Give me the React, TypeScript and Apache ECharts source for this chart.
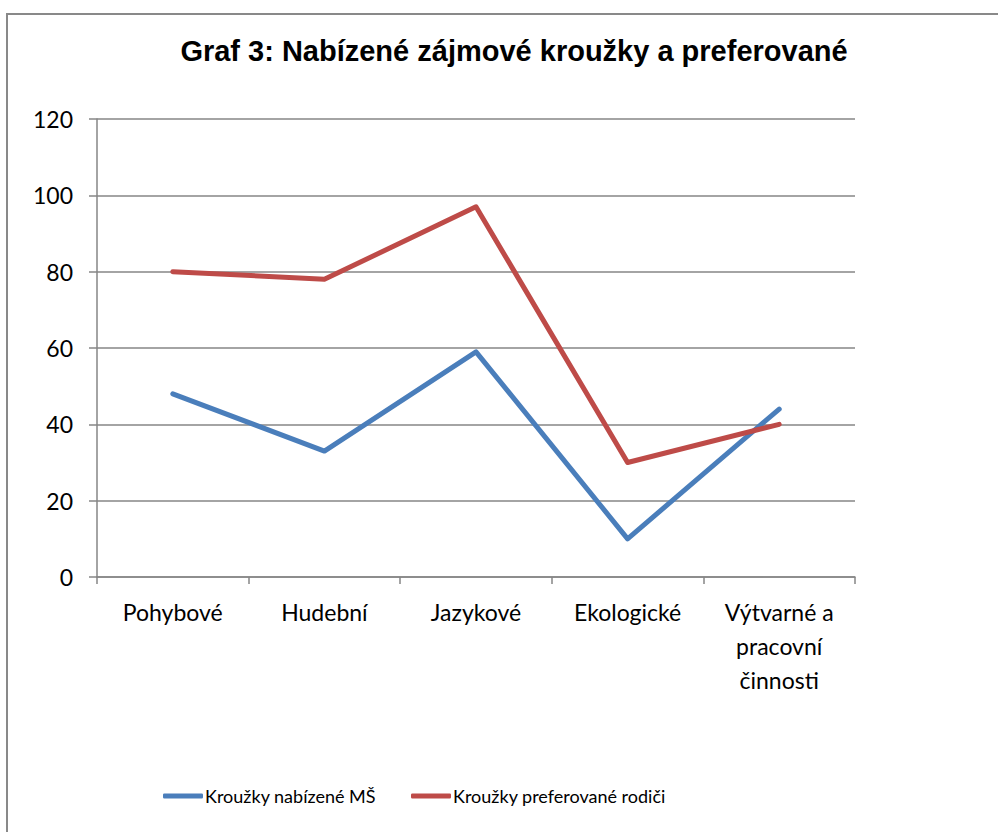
import React, { useEffect, useRef } from "react";
import * as echarts from "echarts";

const categories = ["Pohybové", "Hudební", "Jazykové", "Ekologické", "Výtvarné a\npracovní\nčinnosti"];
const offeredName = "Kroužky nabízené MŠ";
const preferredName = "Kroužky preferované rodiči";
const offered = [48, 33, 59, 10, 44];
const preferred = [80, 78, 97, 30, 40];
const titleText = "Graf 3: Nabízené zájmové kroužky a preferované";

export default function App() {
  const ref = useRef<HTMLDivElement>(null);
  useEffect(() => {
    const chart = echarts.init(ref.current!, undefined, { renderer: "svg" });
    const labelFont = { fontFamily: "Lato", fontSize: 23, color: "#000" };
    chart.setOption({
      animation: false,
      backgroundColor: "#fff",
      graphic: [
        {
          type: "rect",
          shape: { x: 7, y: 14, width: 1200, height: 1200 },
          style: { fill: "none", stroke: "#898989", lineWidth: 2 },
          silent: true,
        },
      ],
      title: {
        text: titleText,
        left: 509,
        textAlign: "center",
        top: 31,
        textStyle: { fontFamily: "Liberation Sans", fontWeight: "bold", fontSize: 29, color: "#000" },
      },
      legend: {
        left: 163,
        top: 787,
        padding: 0,
        itemWidth: 40,
        itemHeight: 5,
        itemGap: 35,
        icon: "roundRect",
        textStyle: { fontFamily: "Lato", fontSize: 18, color: "#000", padding: [0, 0, 0, -3] },
        data: [offeredName, preferredName],
      },
      grid: { left: 97, top: 119, right: 143, bottom: 255, containLabel: false },
      xAxis: {
        type: "category",
        data: categories,
        boundaryGap: true,
        axisLine: { lineStyle: { color: "#868686", width: 1.5 } },
        axisTick: { show: true, length: 7, inside: false, lineStyle: { color: "#868686", width: 1.5 } },
        axisLabel: { ...labelFont, margin: 18, lineHeight: 34, interval: 0 },
      },
      yAxis: {
        type: "value",
        min: 0,
        max: 120,
        interval: 20,
        axisLine: { show: true, lineStyle: { color: "#868686", width: 1.5 } },
        axisTick: { show: true, length: 8, lineStyle: { color: "#868686", width: 1.5 } },
        axisLabel: { ...labelFont, margin: 24 },
        splitLine: { show: true, lineStyle: { color: "#868686", width: 1.5 } },
      },
      series: [
        {
          name: offeredName,
          type: "line",
          data: offered,
          symbol: "none",
          lineStyle: { color: "#4a7ebb", width: 5, cap: "round", join: "round" },
          itemStyle: { color: "#4a7ebb" },
        },
        {
          name: preferredName,
          type: "line",
          data: preferred,
          symbol: "none",
          lineStyle: { color: "#be4b48", width: 5, cap: "round", join: "round" },
          itemStyle: { color: "#be4b48" },
        },
      ],
    });
    return () => chart.dispose();
  }, []);
  return (
    <div
      ref={ref}
      style={{ position: "absolute", left: 0, top: 0, width: 998, height: 832 }}
    />
  );
}
